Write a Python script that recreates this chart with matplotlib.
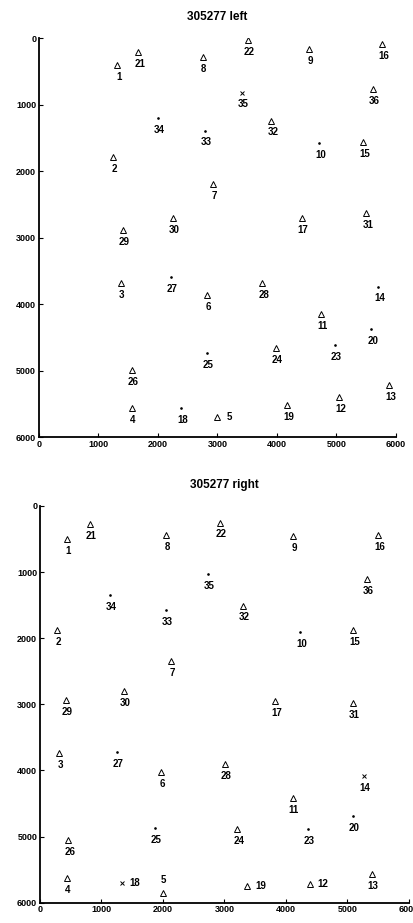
import matplotlib
matplotlib.use("Agg")
import matplotlib.pyplot as plt

plt.rcParams["font.family"] = ["Liberation Sans", "DejaVu Sans"]

# ── "305277 left" ─────────────────────────────────────────────────────────────
LEFT_IDS = [1, 21, 8, 22, 9, 16, 35, 36, 34, 33, 32, 10, 15, 2, 7, 30, 29, 17,
            31, 3, 27, 6, 28, 14, 11, 20, 24, 23, 25, 26, 13, 12, 19, 4, 18, 5]
LEFT_X = [1316, 1669, 2751, 3518, 4543, 5776, 3407, 5619, 1995, 2790, 3910, 4711,
          5451, 1249, 2930, 2247, 1417, 4415, 5507, 1373, 2213, 2829, 3759, 5703,
          4751, 5591, 3983, 4975, 2818, 1558, 5887, 5047, 4173, 1558, 2387, 2987]
LEFT_Y = [406, 206, 281, 30, 170, 90, 822, 772, 1208, 1393, 1243, 1584,
          1559, 1785, 2195, 2711, 2887, 2711, 2636, 3689, 3589, 3865, 3689, 3739,
          4150, 4381, 4666, 4617, 4742, 4992, 5218, 5403, 5519, 5569, 5559, 5704]
LEFT_KIND = ["tri", "tri", "tri", "tri", "tri", "tri", "x", "tri", "dot", "dot",
             "tri", "dot", "tri", "tri", "tri", "tri", "tri", "tri", "tri", "tri",
             "dot", "tri", "tri", "dot", "tri", "dot", "tri", "dot", "dot", "tri",
             "tri", "tri", "tri", "tri", "dot", "tri"]
LEFT_LABEL_SIDE = {5: "right"}

# ── "305277 right" ────────────────────────────────────────────────────────────
RIGHT_IDS = [1, 21, 8, 22, 9, 16, 35, 36, 34, 32, 33, 2, 10, 15, 7, 30, 29, 17,
             31, 3, 27, 6, 28, 14, 11, 20, 25, 24, 23, 26, 13, 4, 18, 5, 19, 12]
RIGHT_X = [434, 813, 2043, 2927, 4108, 5501, 2737, 5312, 1138, 3306, 2043, 271,
           4228, 5095, 2125, 1366, 423, 3821, 5095, 314, 1247, 1963, 3008, 5268,
           4108, 5084, 1870, 3209, 4363, 461, 5393, 434, 1328, 2005, 3371, 4390]
RIGHT_Y = [503, 271, 437, 251, 452, 437, 1026, 1106, 1342, 1508, 1579, 1880,
           1911, 1880, 2348, 2801, 2936, 2951, 2976, 3741, 3721, 4022, 3906, 4082,
           4424, 4695, 4877, 4887, 4887, 5048, 5566, 5630, 5701, 5852, 5742, 5716]
RIGHT_KIND = ["tri", "tri", "tri", "tri", "tri", "tri", "dot", "tri", "dot", "tri",
              "dot", "tri", "dot", "tri", "tri", "tri", "tri", "tri", "tri", "tri",
              "dot", "tri", "tri", "x", "tri", "dot", "dot", "tri", "dot", "tri",
              "tri", "tri", "x", "tri", "tri", "tri"]
RIGHT_LABEL_SIDE = {18: "right", 19: "right", 12: "right", 5: "above"}

TICKS = [0, 1000, 2000, 3000, 4000, 5000, 6000]

MARKERS = {"tri": dict(marker="^", ms=5, mfc="none", mec="black", mew=0.7),
           "x":   dict(marker="x", ms=2.5, mec="black", mew=0.7),
           "dot": dict(marker=".", ms=1.8, mfc="black", mec="black")}
OFFSETS = {"below": (1, -8.5), "right": (9.5, 0), "above": (0, 9)}


def draw_panel(ax, title, ids, xs, ys, kinds, sides):
    for i, x, y, k in zip(ids, xs, ys, kinds):
        ax.plot(x, y, ls="none", **MARKERS[k])
        off = OFFSETS[sides.get(i, "below")]
        ax.annotate(str(i), (x, y), xytext=off, textcoords="offset points",
                    ha="center", va="center", fontsize=7, fontweight="bold")
    ax.set_xlim(0, 6000)
    ax.set_ylim(6000, 0)
    ax.set_xticks(TICKS)
    ax.set_yticks(TICKS)
    ax.tick_params(direction="in", length=3, width=0.8, labelsize=6.5, pad=2)
    for lab in ax.get_xticklabels() + ax.get_yticklabels():
        lab.set_fontweight("bold")
    ax.spines["top"].set_visible(False)
    ax.spines["right"].set_visible(False)
    ax.spines["left"].set_linewidth(1.3)
    ax.spines["bottom"].set_linewidth(1.3)
    ax.set_title(title, fontsize=8.5, fontweight="bold", pad=13)


fig = plt.figure(figsize=(4.14, 9.23), dpi=100)
ax_l = fig.add_axes([0.094, 0.5265, 0.862, 0.4323])
ax_r = fig.add_axes([0.0966, 0.022, 0.891, 0.4298])

draw_panel(ax_l, "305277 left", LEFT_IDS, LEFT_X, LEFT_Y, LEFT_KIND, LEFT_LABEL_SIDE)
draw_panel(ax_r, "305277 right", RIGHT_IDS, RIGHT_X, RIGHT_Y, RIGHT_KIND, RIGHT_LABEL_SIDE)

fig.savefig("out.png", dpi=100)
